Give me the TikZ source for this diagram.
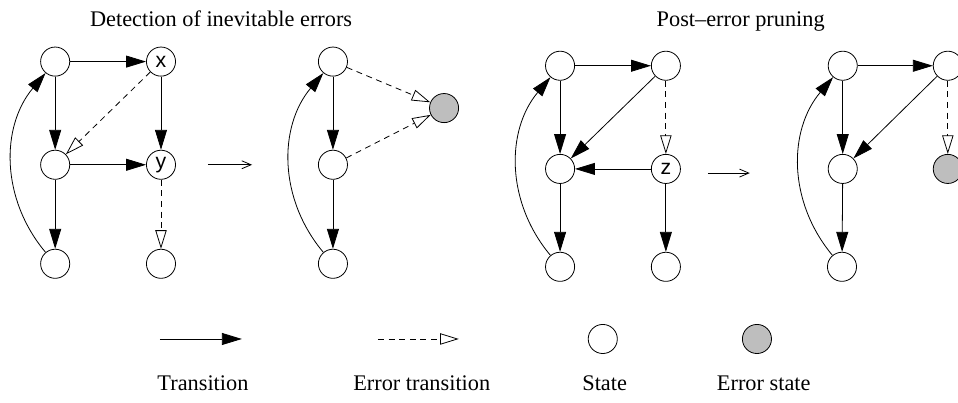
\documentclass[tikz,border=0pt]{standalone}
\usepackage{fontspec}
\setmainfont{Liberation Serif}
\newfontfamily\statefont{Liberation Sans}
\usetikzlibrary{arrows.meta}
\definecolor{errgray}{RGB}{190,190,190}
\tikzset{
  stnode/.style={circle,draw,line width=0.6pt,minimum size=0.77cm,inner sep=0pt,
    font=\statefont\fontsize{16}{16}\selectfont},
  errstnode/.style={stnode,fill=errgray},
  trans/.style={line width=0.6pt,-{Triangle[length=15pt,width=9pt]}},
  errtrans/.style={line width=0.6pt,dash pattern=on 4.5pt off 3.5pt,
    -{Triangle[open,length=14pt,width=8.5pt]}},
  stepto/.style={line width=0.6pt,-{Straight Barb[length=7pt,width=6pt]}},
  captext/.style={anchor=base,font=\fontsize{16.8}{19}\selectfont}
}
\begin{document}
\begin{tikzpicture}[x=1cm,y=1cm]
\useasboundingbox (0,0) rectangle (25.35,10.66);
\node[captext] (t1) at (5.85,9.97) {Detection of inevitable errors};
\node[captext] (t2) at (19.60,9.97) {Post--error pruning};

\node[stnode] (a1) at (1.46,9.03) {};
\node[stnode] (x1) at (4.26,9.03) {x};
\node[stnode] (b1) at (1.46,6.30) {};
\node[stnode] (y1) at (4.26,6.30) {y};
\node[stnode] (c1) at (1.46,3.68) {};
\node[stnode] (d1) at (4.26,3.68) {};
\draw[trans] (a1) -- (x1);
\draw[trans] (a1) -- (b1);
\draw[trans] (x1) -- (y1);
\draw[errtrans] (x1) -- (b1);
\draw[trans] (b1) -- (y1);
\draw[trans] (b1) -- (c1);
\draw[errtrans] (y1) -- (d1);
\draw[trans] (c1) to[bend left=40] (a1);

\coordinate (p1) at (5.50,6.30);
\coordinate (q1) at (6.67,6.30);
\draw[stepto] (p1) -- (q1);

\node[stnode] (a2) at (8.81,9.03) {};
\node[stnode] (b2) at (8.81,6.30) {};
\node[stnode] (c2) at (8.81,3.68) {};
\node[errstnode] (e2) at (11.75,7.80) {};
\draw[trans] (a2) -- (b2);
\draw[trans] (b2) -- (c2);
\draw[trans] (c2) to[bend left=40] (a2);
\draw[errtrans] (a2) -- (e2);
\draw[errtrans] (b2) -- (e2);

\node[stnode] (a3) at (14.82,8.92) {};
\node[stnode] (x3) at (17.62,8.92) {};
\node[stnode] (b3) at (14.82,6.19) {};
\node[stnode] (z3) at (17.62,6.19) {z};
\node[stnode] (c3) at (14.82,3.60) {};
\node[stnode] (d3) at (17.62,3.60) {};
\draw[trans] (a3) -- (x3);
\draw[trans] (a3) -- (b3);
\draw[trans] (x3) -- (b3);
\draw[errtrans] (x3) -- (z3);
\draw[trans] (z3) -- (b3);
\draw[trans] (z3) -- (d3);
\draw[trans] (b3) -- (c3);
\draw[trans] (c3) to[bend left=40] (a3);

\coordinate (p2) at (18.73,6.08);
\coordinate (q2) at (19.84,6.08);
\draw[stepto] (p2) -- (q2);

\node[stnode] (a4) at (22.30,8.92) {};
\node[stnode] (x4) at (25.08,8.92) {};
\node[stnode] (b4) at (22.30,6.19) {};
\node[errstnode] (e4) at (25.08,6.19) {};
\node[stnode] (c4) at (22.28,3.60) {};
\draw[trans] (a4) -- (x4);
\draw[trans] (a4) -- (b4);
\draw[trans] (x4) -- (b4);
\draw[errtrans] (x4) -- (e4);
\draw[trans] (b4) -- (c4);
\draw[trans] (c4) to[bend left=40] (a4);

\coordinate (ls) at (4.23,1.69);
\coordinate (le) at (6.40,1.69);
\draw[trans] (ls) -- (le);
\coordinate (ms) at (10.00,1.69);
\coordinate (me) at (12.14,1.69);
\draw[errtrans] (ms) -- (me);
\node[stnode] (ks) at (15.95,1.69) {};
\node[errstnode] (ke) at (20.03,1.69) {};

\node[captext] (l1) at (5.37,0.32) {Transition};
\node[captext] (l2) at (11.16,0.32) {Error transition};
\node[captext] (l3) at (16.00,0.32) {State};
\node[captext] (l4) at (20.21,0.32) {Error state};
\end{tikzpicture}
\end{document}
